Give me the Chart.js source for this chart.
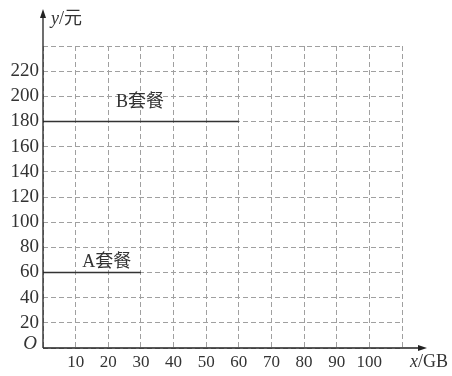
<!DOCTYPE html>
<html>
<head>
<meta charset="utf-8">
<script src="https://cdn.jsdelivr.net/npm/chart.js@4/dist/chart.umd.min.js"></script>
<style>
  html, body { margin: 0; padding: 0; background: #fff; }
  canvas { display: block; }
</style>
</head>
<body>
<canvas id="chart" width="452" height="376"></canvas>
<script>
// plan lines: x in GB, y in yuan
const bX = [0, 60];
const bY = [180, 180];
const aX = [0, 30];
const aY = [60, 60];
const xTicks = [10, 20, 30, 40, 50, 60, 70, 80, 90, 100];
const yTicks = [20, 40, 60, 80, 100, 120, 140, 160, 180, 200, 220];
const planLabels = ["B套餐", "A套餐"];

const serif = "'Liberation Serif', 'Times New Roman', 'Noto Sans CJK SC', serif";
const ink = "#333";

const toPoints = (xs, ys) => xs.map((x, i) => ({ x, y: ys[i] }));

// axes with arrows, axis names and plan labels
const decor = {
  id: "decor",
  afterDraw(chart) {
    const { ctx, scales: { x, y } } = chart;
    const x0 = x.getPixelForValue(0), y0 = y.getPixelForValue(0);
    ctx.save();
    ctx.strokeStyle = "#222";
    ctx.fillStyle = "#222";
    ctx.lineWidth = 1.3;
    ctx.beginPath();
    ctx.moveTo(x0, y0);
    ctx.lineTo(x0, 14);
    ctx.moveTo(x0, y0);
    ctx.lineTo(422, y0);
    ctx.stroke();
    // arrow heads
    ctx.beginPath();
    ctx.moveTo(x0, 9); ctx.lineTo(x0 - 3, 18); ctx.lineTo(x0 + 3, 18); ctx.closePath();
    ctx.fill();
    ctx.beginPath();
    ctx.moveTo(427, y0); ctx.lineTo(418, y0 - 3); ctx.lineTo(418, y0 + 3); ctx.closePath();
    ctx.fill();

    ctx.fillStyle = ink;
    ctx.textBaseline = "middle";
    ctx.textAlign = "left";
    const axisName = (px, py, v, rest) => {
      ctx.font = "italic 18px " + serif;
      ctx.fillText(v, px, py);
      const w = ctx.measureText(v).width;
      ctx.font = "18px " + serif;
      ctx.fillText(rest, px + w, py);
    };
    axisName(x0 + 8, 19, "y", "/元");
    axisName(410, 362, "x", "/GB");

    ctx.font = "18px " + serif;
    ctx.fillText(planLabels[0], x.getPixelForValue(22.4), y.getPixelForValue(195));
    ctx.fillText(planLabels[1], x.getPixelForValue(12), y.getPixelForValue(68));

    // origin mark
    ctx.font = "italic 19px " + serif;
    ctx.textAlign = "right";
    ctx.fillText("O", x0 - 6, y0 - 4);
    ctx.restore();
  }
};

new Chart(document.getElementById("chart"), {
  type: "line",
  data: {
    datasets: [
      { label: "B", data: toPoints(bX, bY), borderColor: ink, borderWidth: 1.3, pointRadius: 0, fill: false },
      { label: "A", data: toPoints(aX, aY), borderColor: ink, borderWidth: 1.3, pointRadius: 0, fill: false }
    ]
  },
  options: {
    responsive: false,
    animation: false,
    layout: { padding: { top: 46, right: 50, left: 0, bottom: 0 } },
    plugins: { legend: { display: false }, tooltip: { enabled: false } },
    scales: {
      x: {
        type: "linear",
        min: 0,
        max: 110,
        afterFit: (s) => { s.height = 28; },
        afterBuildTicks: (s) => { s.ticks = [0, ...xTicks, 110].map((v) => ({ value: v })); },
        ticks: {
          autoSkip: false,
          maxRotation: 0,
          padding: 4,
          color: ink,
          font: { family: serif, size: 17 },
          callback: (v) => (xTicks.includes(v) ? String(v) : "")
        },
        grid: { color: "#a0a0a0", lineWidth: 1, drawTicks: false },
        border: { display: false, dash: [5, 3] }
      },
      y: {
        type: "linear",
        min: 0,
        max: 240,
        afterFit: (s) => { s.width = 43; },
        afterBuildTicks: (s) => { s.ticks = [0, ...yTicks, 240].map((v) => ({ value: v })); },
        ticks: {
          autoSkip: false,
          padding: 4,
          color: ink,
          font: { family: serif, size: 19 },
          callback: (v) => (yTicks.includes(v) ? String(v) : "")
        },
        grid: { color: "#a0a0a0", lineWidth: 1, drawTicks: false },
        border: { display: false, dash: [5, 3] }
      }
    }
  },
  plugins: [decor]
});
</script>
</body>
</html>
